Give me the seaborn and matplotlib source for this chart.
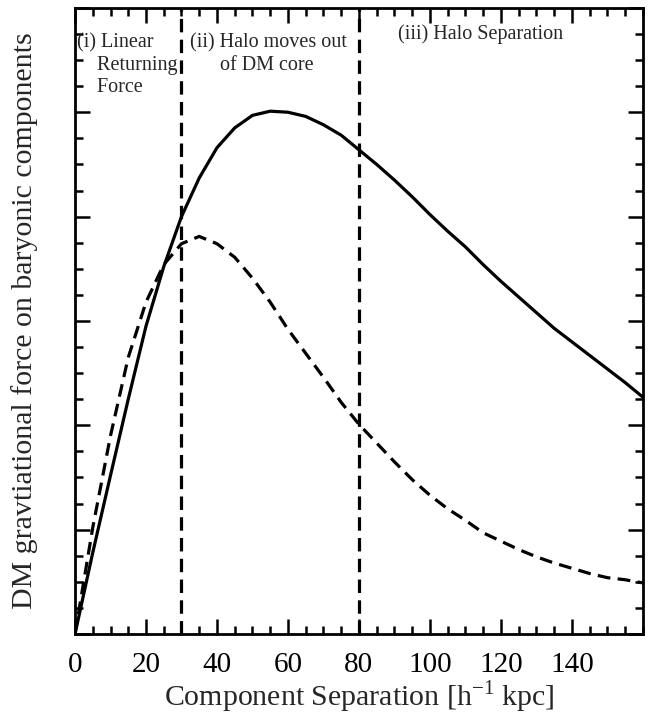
import numpy as np
import pandas as pd
import matplotlib
matplotlib.use("Agg")
import matplotlib.pyplot as plt
from matplotlib.ticker import MultipleLocator, NullFormatter
import seaborn as sns

# Data
sep = [0, 5, 10, 15, 20, 25, 30, 35, 40, 45, 50, 55, 60, 65, 70, 75, 80,
       85, 90, 95, 100, 105, 110, 115, 120, 125, 130, 135, 140, 145, 150, 155, 160]
force_solid = [0.0, 0.78, 1.52, 2.25, 2.95, 3.52, 4.0, 4.37, 4.66, 4.85, 4.97, 5.01, 5.0,
               4.96, 4.88, 4.78, 4.64, 4.50, 4.35, 4.19, 4.02, 3.86, 3.71, 3.54, 3.38,
               3.23, 3.08, 2.93, 2.80, 2.67, 2.54, 2.41, 2.27]
force_dashed = [0.0, 1.02, 1.90, 2.65, 3.18, 3.54, 3.74, 3.81, 3.74, 3.61, 3.41, 3.18, 2.92,
                2.69, 2.46, 2.22, 2.01, 1.83, 1.65, 1.48, 1.33, 1.20, 1.09, 0.97, 0.89,
                0.81, 0.74, 0.68, 0.63, 0.58, 0.54, 0.52, 0.49]
region_bounds = [30, 80]
region_labels = ["(i) Linear\n    Returning\n    Force",
                 "(ii) Halo moves out\n      of DM core",
                 "(iii) Halo Separation"]
region_label_x = [0.6, 32.3, 91]
region_label_y = [5.76, 5.76, 5.84]

sns.set_style("ticks")
plt.rcParams['font.family'] = ['Liberation Serif', 'DejaVu Serif']
plt.rcParams['mathtext.fontset'] = 'custom'
plt.rcParams['mathtext.rm'] = 'Liberation Serif'

df = pd.DataFrame({"sep": sep + sep,
                   "force": force_solid + force_dashed,
                   "kind": ["solid"] * len(sep) + ["dashed"] * len(sep)})

fig = plt.figure(figsize=(6.5, 7.16), dpi=100)
ax = fig.add_axes([0.1154, 0.1145, 0.8736, 0.8745])

sns.lineplot(data=df, x="sep", y="force", hue="kind", style="kind",
             palette={"solid": "black", "dashed": "black"},
             dashes={"solid": "", "dashed": (4, 2.3)},
             linewidth=2.3, legend=False, ax=ax)

for xb in region_bounds:
    ax.axvline(xb, color="black", linestyle=(0, (4.2, 2.3)), linewidth=2.3)

for lbl, lx, ly in zip(region_labels, region_label_x, region_label_y):
    ax.text(lx, ly, lbl, fontsize=14.5, va="top", ha="left", linespacing=1.25)

ax.set_xlim(0, 160)
ax.set_ylim(0, 6)
ax.xaxis.set_major_locator(MultipleLocator(20))
ax.xaxis.set_minor_locator(MultipleLocator(5))
ax.yaxis.set_major_locator(MultipleLocator(1))
ax.yaxis.set_minor_locator(MultipleLocator(0.25))
ax.yaxis.set_major_formatter(NullFormatter())
ax.set_xticks([0, 20, 40, 60, 80, 100, 120, 140])

ax.tick_params(which="both", direction="in", top=True, right=True, width=1.8, colors="black")
ax.tick_params(which="major", length=11, labelsize=21, pad=13)
ax.tick_params(which="minor", length=5.5)
for s in ax.spines.values():
    s.set_linewidth(2)
    s.set_color("black")

ax.set_xlabel(r"Component Separation [h$^{-1}$ kpc]", fontsize=21.5, labelpad=0)
ax.set_ylabel("DM gravtiational force on baryonic components", fontsize=21.5, labelpad=14)

fig.savefig("out.png", dpi=100)
